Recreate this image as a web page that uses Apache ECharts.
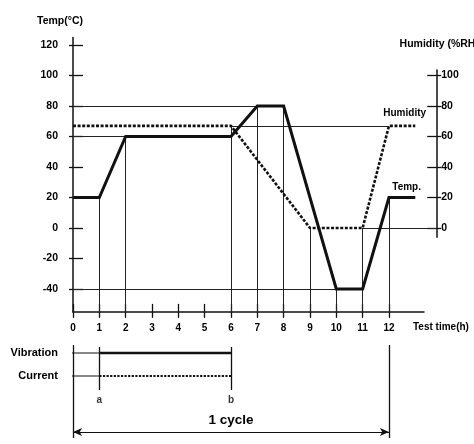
<!DOCTYPE html>
<html><head><meta charset="utf-8">
<script src="https://cdn.jsdelivr.net/npm/echarts@6/dist/echarts.min.js"></script>
<style>html,body{margin:0;padding:0;background:#fff}#c{width:474px;height:444px}</style>
</head><body><div id="c"></div>
<script>
// ---- data ----
const hourTicks = [0,1,2,3,4,5,6,7,8,9,10,11,12];
const tempTicks = [-40,-20,0,20,40,60,80,100,120];
const humTicks = [0,20,40,60,80,100];
const seriesNames = ['Temp.','Humidity'];
const tempTime = [0,1,2,6,7,8,10,11,12,13];
const tempValue = [20,20,60,60,80,80,-40,-40,20,20];
const humTime = [0,6,9,11,12,13];
const humValue = [67,67,0,0,67,67];
const guideLevel = [80,60,67,0,-40];
const guideFrom = [0,0,6,11,0];
const guideTo = [7,2,12,13.82,10];
const dropTime = [1,2,6,7,8,9,10,11,12];
const dropTop = [20,60,67,80,80,0,-40,0,20];
const rowNames = ['Vibration','Current'];
const vibrationOn = [1,6];
const currentOn = [1,6];
const markerTime = [1,6];
const markerNames = ['a','b'];
const cycleSpan = [0,12];
const cycleLabel = '1 cycle';

// ---- layout ----
const L = 73, XMAX = 13.33, PXH = 26.33;
const Y0 = 228, PXU = 1.525, YMIN = -55, YMAX = 125;
const RMIN = -6, RMAX = 103.6;
const GW = XMAX * PXH;
const GH = (YMAX - YMIN) * PXU;
const rowY = [13, 36];
const LEAD = -0.23, MARK_TOP = 7, MARK_BOTTOM = 50, AB_ROW = 60, ARROW_ROW = 92, BOUND_TOP = 5, BOUND_BOTTOM = 98;
const FONT = '"Liberation Sans", Arial, sans-serif';
const INK = '#111';
const txt = (size) => ({fontFamily: FONT, fontSize: size, fontWeight: 'bold', color: '#000'});

const guideLines = [];
guideLevel.forEach((lv, i) => guideLines.push({coords: [[guideFrom[i], lv], [guideTo[i], lv]]}));
dropTime.forEach((t, i) => guideLines.push({coords: [[t, dropTop[i]], [t, YMIN]]}));

const bottomLines = [];
markerTime.forEach(t => bottomLines.push({coords: [[t, MARK_TOP], [t, MARK_BOTTOM]]}));
cycleSpan.forEach(t => bottomLines.push({coords: [[t, BOUND_TOP], [t, BOUND_BOTTOM]]}));

const zip = (a, b) => a.map((v, i) => [v, b[i]]);

const chart = echarts.init(document.getElementById('c'), null, {renderer: 'canvas'});
chart.setOption({
  animation: false,
  backgroundColor: '#fff',
  grid: [
    {left: L, top: Y0 - YMAX * PXU, width: GW, height: GH},
    {left: L, top: 340, width: GW, height: 100},
    {left: 436, top: Y0 - RMAX * PXU, width: 1, height: (RMAX - RMIN) * PXU}
  ],
  xAxis: [
    {gridIndex: 0, type: 'value', min: 0, max: XMAX, position: 'bottom',
     axisLine: {onZero: false, lineStyle: {color: INK, width: 1.5}},
     axisTick: {length: 6, customValues: hourTicks, lineStyle: {color: INK, width: 1.3}},
     axisLabel: {customValues: hourTicks, margin: 11, ...txt(10)},
     splitLine: {show: false},
     name: 'Test time(h)', nameLocation: 'end', nameGap: -11,
     nameTextStyle: {...txt(10), align: 'left', verticalAlign: 'top', padding: [10, 0, 0, 0]}},
    {gridIndex: 0, type: 'value', min: 0, max: XMAX, position: 'top', offset: -GH,
     axisLine: {show: false, onZero: false},
     axisTick: {inside: false, length: 8, customValues: hourTicks, lineStyle: {color: INK, width: 1.3}},
     axisLabel: {show: false}, splitLine: {show: false}},
    {gridIndex: 1, type: 'value', min: 0, max: XMAX, show: false},
    {gridIndex: 2, type: 'value', min: 0, max: 1, show: false}
  ],
  yAxis: [
    {gridIndex: 0, type: 'value', min: YMIN, max: YMAX, position: 'left',
     axisLine: {show: true, onZero: false, lineStyle: {color: INK, width: 1.5}},
     axisTick: {show: true, length: 4, customValues: tempTicks, lineStyle: {color: INK, width: 1.3}},
     axisLabel: {customValues: tempTicks, margin: 15, ...txt(10.5)},
     splitLine: {show: false},
     name: 'Temp(°C)', nameLocation: 'end', nameGap: 11,
     nameTextStyle: {...txt(10.5), padding: [0, 26, 0, 0]}},
    {gridIndex: 0, type: 'value', min: YMIN, max: YMAX, show: false},
    {gridIndex: 0, type: 'value', min: YMIN, max: YMAX, position: 'left',
     axisLine: {show: false, onZero: false},
     axisTick: {show: true, inside: true, length: 10, customValues: tempTicks, lineStyle: {color: INK, width: 1.3}},
     axisLabel: {show: false}, splitLine: {show: false}},
    {gridIndex: 1, type: 'value', min: 0, max: 100, inverse: true,
     axisLine: {show: false}, axisTick: {show: false}, splitLine: {show: false},
     axisLabel: {customValues: rowY, margin: 15, formatter: v => rowNames[rowY.indexOf(v)] || '', ...txt(11)}},
    {gridIndex: 2, type: 'value', min: RMIN, max: RMAX, position: 'right',
     axisLine: {show: true, onZero: false, lineStyle: {color: INK, width: 1.5}},
     axisTick: {show: true, inside: true, length: 9, customValues: humTicks, lineStyle: {color: INK, width: 1.3}},
     axisLabel: {customValues: humTicks, margin: 5, ...txt(10.5)},
     splitLine: {show: false},
     name: 'Humidity (%RH)', nameLocation: 'end', nameGap: 20,
     nameTextStyle: {...txt(10.5), padding: [0, 0, 0, 6]}},
    {gridIndex: 2, type: 'value', min: RMIN, max: RMAX, position: 'right',
     axisLine: {show: false, onZero: false},
     axisTick: {show: true, length: 5, customValues: humTicks, lineStyle: {color: INK, width: 1.3}},
     axisLabel: {show: false}, splitLine: {show: false}}
  ],
  series: [
    {type: 'lines', coordinateSystem: 'cartesian2d', xAxisIndex: 0, yAxisIndex: 0, clip: false, silent: true,
     data: guideLines, lineStyle: {color: '#222', width: 1, opacity: 1, curveness: 0}},
    {type: 'line', name: seriesNames[0], xAxisIndex: 0, yAxisIndex: 0, data: zip(tempTime, tempValue),
     showSymbol: false, clip: false, lineStyle: {color: INK, width: 3, join: 'miter'},
     endLabel: {show: true, formatter: seriesNames[0], distance: 0, offset: [-23, -10], align: 'left', verticalAlign: 'middle', ...txt(10)}},
    {type: 'line', name: seriesNames[1], xAxisIndex: 0, yAxisIndex: 1, data: zip(humTime, humValue),
     showSymbol: false, clip: false, lineStyle: {color: INK, width: 2.6, type: [3, 1.6], cap: 'butt'},
     endLabel: {show: true, formatter: seriesNames[1], distance: 0, offset: [-32, -13], align: 'left', verticalAlign: 'middle', ...txt(10)}},
    // bottom timeline
    {type: 'line', xAxisIndex: 2, yAxisIndex: 3, showSymbol: false, clip: false,
     data: [[LEAD, rowY[0]], [vibrationOn[0], rowY[0]]], lineStyle: {color: INK, width: 1}},
    {type: 'line', xAxisIndex: 2, yAxisIndex: 3, showSymbol: false, clip: false,
     data: [[vibrationOn[0], rowY[0]], [vibrationOn[1], rowY[0]]], lineStyle: {color: INK, width: 2.5}},
    {type: 'line', xAxisIndex: 2, yAxisIndex: 3, showSymbol: false, clip: false,
     data: [[LEAD, rowY[1]], [currentOn[0], rowY[1]]], lineStyle: {color: INK, width: 1.2}},
    {type: 'line', xAxisIndex: 2, yAxisIndex: 3, showSymbol: false, clip: false,
     data: [[currentOn[0], rowY[1]], [currentOn[1], rowY[1]]], lineStyle: {color: INK, width: 2.2, type: [2.2, 1.4], cap: 'butt'}},
    {type: 'lines', coordinateSystem: 'cartesian2d', xAxisIndex: 2, yAxisIndex: 3, clip: false, silent: true,
     data: bottomLines, lineStyle: {color: INK, width: 1.3, opacity: 1, curveness: 0}},
    {type: 'scatter', xAxisIndex: 2, yAxisIndex: 3, symbolSize: 0, silent: true,
     data: markerTime.map(t => [t, AB_ROW]),
     label: {show: true, position: 'inside', formatter: p => markerNames[p.dataIndex], ...txt(10)}},
    {type: 'line', xAxisIndex: 2, yAxisIndex: 3, data: [], silent: true,
     markLine: {silent: true, symbol: ['arrow', 'arrow'], symbolSize: [6, 9],
       lineStyle: {color: INK, width: 1.2, type: 'solid'},
       label: {show: true, position: 'middle', distance: 5, formatter: cycleLabel, ...txt(13.5)},
       data: [[{coord: [cycleSpan[0], ARROW_ROW]}, {coord: [cycleSpan[1], ARROW_ROW]}]]}}
  ]
});
</script></body></html>
